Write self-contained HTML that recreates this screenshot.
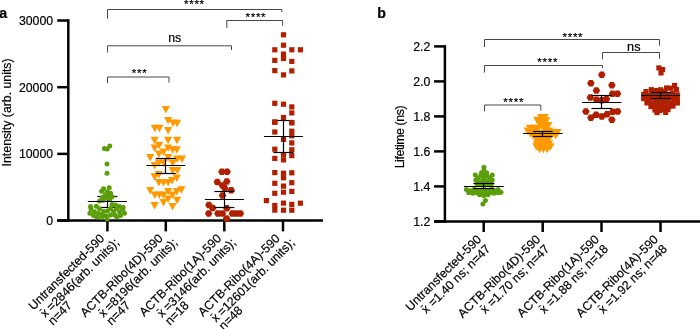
<!DOCTYPE html>
<html><head><meta charset="utf-8"><title>Figure</title>
<style>
html,body{margin:0;padding:0;background:#fff;}
svg{display:block;will-change:transform;}
text{font-family:"Liberation Sans",sans-serif;fill:#000;stroke:#000;stroke-width:0.2px;}
</style></head><body>
<svg width="700" height="329" viewBox="0 0 700 329">
<rect width="700" height="329" fill="#fff"/>
<text x="-0.80" y="17.90" font-size="14.2" font-weight="bold" text-anchor="start">a</text>
<line x1="68.30" y1="19.26" x2="68.30" y2="221.80" stroke="#000" stroke-width="2.5" stroke-linecap="butt"/>
<line x1="57.20" y1="220.55" x2="323.00" y2="220.55" stroke="#000" stroke-width="2.5" stroke-linecap="butt"/>
<line x1="57.20" y1="220.55" x2="68.30" y2="220.55" stroke="#000" stroke-width="2.5" stroke-linecap="butt"/>
<text x="53.10" y="224.90" font-size="12.3" font-weight="normal" text-anchor="end">0</text>
<line x1="57.20" y1="153.87" x2="68.30" y2="153.87" stroke="#000" stroke-width="2.5" stroke-linecap="butt"/>
<text x="53.10" y="158.22" font-size="12.3" font-weight="normal" text-anchor="end">10000</text>
<line x1="57.20" y1="87.19" x2="68.30" y2="87.19" stroke="#000" stroke-width="2.5" stroke-linecap="butt"/>
<text x="53.10" y="91.54" font-size="12.3" font-weight="normal" text-anchor="end">20000</text>
<line x1="57.20" y1="20.51" x2="68.30" y2="20.51" stroke="#000" stroke-width="2.5" stroke-linecap="butt"/>
<text x="53.10" y="24.86" font-size="12.3" font-weight="normal" text-anchor="end">30000</text>
<line x1="107.40" y1="220.55" x2="107.40" y2="231.40" stroke="#000" stroke-width="2.5" stroke-linecap="butt"/>
<line x1="165.80" y1="220.55" x2="165.80" y2="231.40" stroke="#000" stroke-width="2.5" stroke-linecap="butt"/>
<line x1="224.30" y1="220.55" x2="224.30" y2="231.40" stroke="#000" stroke-width="2.5" stroke-linecap="butt"/>
<line x1="283.00" y1="220.55" x2="283.00" y2="231.40" stroke="#000" stroke-width="2.5" stroke-linecap="butt"/>
<text x="11.50" y="112.40" font-size="12.3" font-weight="normal" text-anchor="middle" transform="rotate(-90 11.50 112.40)">Intensity (arb. units)</text>
<polyline points="107.50,18.80 107.50,9.50 281.80,9.50 281.80,12.10" fill="none" stroke="#474747" stroke-width="1.0"/>
<text x="194.40" y="8.00" font-size="11.5" font-weight="normal" text-anchor="middle" letter-spacing="0.75">****</text>
<polyline points="226.80,28.00 226.80,20.50 282.60,20.50 282.60,25.70" fill="none" stroke="#474747" stroke-width="1.0"/>
<text x="255.90" y="20.50" font-size="11.5" font-weight="normal" text-anchor="middle" letter-spacing="0.75">****</text>
<polyline points="107.50,52.50 107.50,45.80 231.50,45.80 231.50,50.00" fill="none" stroke="#474747" stroke-width="1.0"/>
<text x="174.70" y="42.40" font-size="12.3" font-weight="normal" text-anchor="middle">ns</text>
<polyline points="107.50,83.30 107.50,77.00 169.00,77.00 169.00,82.60" fill="none" stroke="#474747" stroke-width="1.0"/>
<text x="139.70" y="76.60" font-size="11.5" font-weight="normal" text-anchor="middle" letter-spacing="0.75">***</text>
<line x1="107.50" y1="196.50" x2="107.50" y2="207.50" stroke="#000" stroke-width="1.2" stroke-linecap="butt"/>
<line x1="97.40" y1="196.50" x2="117.40" y2="196.50" stroke="#000" stroke-width="1.2" stroke-linecap="butt"/>
<line x1="99.40" y1="207.50" x2="117.40" y2="207.50" stroke="#000" stroke-width="1.2" stroke-linecap="butt"/>
<circle cx="109.80" cy="145.90" r="2.5" fill="#5a9e0a"/>
<circle cx="104.40" cy="148.40" r="2.5" fill="#5a9e0a"/>
<circle cx="107.20" cy="149.00" r="2.5" fill="#5a9e0a"/>
<circle cx="107.00" cy="164.00" r="2.5" fill="#5a9e0a"/>
<circle cx="107.00" cy="173.20" r="2.5" fill="#5a9e0a"/>
<circle cx="103.60" cy="188.70" r="2.5" fill="#5a9e0a"/>
<circle cx="109.20" cy="187.70" r="2.5" fill="#5a9e0a"/>
<circle cx="101.60" cy="191.20" r="2.5" fill="#5a9e0a"/>
<circle cx="107.10" cy="191.90" r="2.5" fill="#5a9e0a"/>
<circle cx="110.60" cy="193.30" r="2.5" fill="#5a9e0a"/>
<circle cx="105.00" cy="194.70" r="2.5" fill="#5a9e0a"/>
<circle cx="108.50" cy="196.10" r="2.5" fill="#5a9e0a"/>
<circle cx="112.00" cy="196.80" r="2.5" fill="#5a9e0a"/>
<circle cx="102.30" cy="197.50" r="2.5" fill="#5a9e0a"/>
<circle cx="105.70" cy="198.20" r="2.5" fill="#5a9e0a"/>
<circle cx="109.90" cy="198.90" r="2.5" fill="#5a9e0a"/>
<circle cx="99.50" cy="201.00" r="2.5" fill="#5a9e0a"/>
<circle cx="103.00" cy="200.30" r="2.5" fill="#5a9e0a"/>
<circle cx="112.00" cy="204.40" r="2.5" fill="#5a9e0a"/>
<circle cx="115.50" cy="205.10" r="2.5" fill="#5a9e0a"/>
<circle cx="90.50" cy="206.50" r="2.5" fill="#5a9e0a"/>
<circle cx="96.30" cy="206.30" r="2.5" fill="#5a9e0a"/>
<circle cx="119.50" cy="206.60" r="2.5" fill="#5a9e0a"/>
<circle cx="123.00" cy="207.20" r="2.5" fill="#5a9e0a"/>
<circle cx="91.00" cy="209.00" r="2.5" fill="#5a9e0a"/>
<circle cx="99.50" cy="208.80" r="2.5" fill="#5a9e0a"/>
<circle cx="110.50" cy="208.50" r="2.5" fill="#5a9e0a"/>
<circle cx="116.50" cy="208.80" r="2.5" fill="#5a9e0a"/>
<circle cx="122.80" cy="209.20" r="2.5" fill="#5a9e0a"/>
<circle cx="94.50" cy="211.80" r="2.5" fill="#5a9e0a"/>
<circle cx="103.50" cy="211.50" r="2.5" fill="#5a9e0a"/>
<circle cx="107.50" cy="211.00" r="2.5" fill="#5a9e0a"/>
<circle cx="113.50" cy="211.50" r="2.5" fill="#5a9e0a"/>
<circle cx="119.50" cy="211.80" r="2.5" fill="#5a9e0a"/>
<circle cx="89.90" cy="213.30" r="2.5" fill="#5a9e0a"/>
<circle cx="98.50" cy="213.50" r="2.5" fill="#5a9e0a"/>
<circle cx="124.50" cy="213.30" r="2.5" fill="#5a9e0a"/>
<circle cx="93.50" cy="215.40" r="2.5" fill="#5a9e0a"/>
<circle cx="102.50" cy="215.00" r="2.5" fill="#5a9e0a"/>
<circle cx="110.50" cy="215.00" r="2.5" fill="#5a9e0a"/>
<circle cx="115.00" cy="215.20" r="2.5" fill="#5a9e0a"/>
<circle cx="120.50" cy="215.40" r="2.5" fill="#5a9e0a"/>
<circle cx="96.80" cy="216.90" r="2.5" fill="#5a9e0a"/>
<circle cx="106.00" cy="216.00" r="2.5" fill="#5a9e0a"/>
<circle cx="117.00" cy="216.90" r="2.5" fill="#5a9e0a"/>
<circle cx="107.20" cy="219.10" r="2.5" fill="#5a9e0a"/>
<circle cx="101.50" cy="217.60" r="2.5" fill="#5a9e0a"/>
<line x1="87.80" y1="201.50" x2="127.00" y2="201.50" stroke="#000" stroke-width="1.2" stroke-linecap="butt"/>
<polygon points="161.70,106.00 169.90,106.00 165.80,113.50" fill="#ff9900"/>
<polygon points="164.00,116.90 172.20,116.90 168.10,124.40" fill="#ff9900"/>
<polygon points="172.90,119.80 181.10,119.80 177.00,127.30" fill="#ff9900"/>
<polygon points="168.90,119.60 177.10,119.60 173.00,127.10" fill="#ff9900"/>
<polygon points="150.70,124.80 158.90,124.80 154.80,132.30" fill="#ff9900"/>
<polygon points="155.30,124.80 163.50,124.80 159.40,132.30" fill="#ff9900"/>
<polygon points="164.00,127.00 172.20,127.00 168.10,134.50" fill="#ff9900"/>
<polygon points="150.50,136.80 158.70,136.80 154.60,144.30" fill="#ff9900"/>
<polygon points="164.00,136.80 172.20,136.80 168.10,144.30" fill="#ff9900"/>
<polygon points="172.90,136.80 181.10,136.80 177.00,144.30" fill="#ff9900"/>
<polygon points="155.00,141.70 163.20,141.70 159.10,149.20" fill="#ff9900"/>
<polygon points="150.50,144.60 158.70,144.60 154.60,152.10" fill="#ff9900"/>
<polygon points="164.00,144.60 172.20,144.60 168.10,152.10" fill="#ff9900"/>
<polygon points="172.70,146.30 180.90,146.30 176.80,153.80" fill="#ff9900"/>
<polygon points="168.60,146.30 176.80,146.30 172.70,153.80" fill="#ff9900"/>
<polygon points="159.40,148.60 167.60,148.60 163.50,156.10" fill="#ff9900"/>
<polygon points="154.80,150.40 163.00,150.40 158.90,157.90" fill="#ff9900"/>
<polygon points="146.10,154.10 154.30,154.10 150.20,161.60" fill="#ff9900"/>
<polygon points="164.00,154.10 172.20,154.10 168.10,161.60" fill="#ff9900"/>
<polygon points="173.20,155.60 181.40,155.60 177.30,163.10" fill="#ff9900"/>
<polygon points="177.90,155.60 186.10,155.60 182.00,163.10" fill="#ff9900"/>
<polygon points="154.80,159.60 163.00,159.60 158.90,167.10" fill="#ff9900"/>
<polygon points="159.40,159.60 167.60,159.60 163.50,167.10" fill="#ff9900"/>
<polygon points="168.60,159.60 176.80,159.60 172.70,167.10" fill="#ff9900"/>
<polygon points="150.50,161.90 158.70,161.90 154.60,169.40" fill="#ff9900"/>
<polygon points="168.60,167.10 176.80,167.10 172.70,174.60" fill="#ff9900"/>
<polygon points="173.20,167.10 181.40,167.10 177.30,174.60" fill="#ff9900"/>
<polygon points="154.80,171.10 163.00,171.10 158.90,178.60" fill="#ff9900"/>
<polygon points="150.50,173.20 158.70,173.20 154.60,180.70" fill="#ff9900"/>
<polygon points="172.70,174.60 180.90,174.60 176.80,182.10" fill="#ff9900"/>
<polygon points="168.00,176.90 176.20,176.90 172.10,184.40" fill="#ff9900"/>
<polygon points="154.80,179.00 163.00,179.00 158.90,186.50" fill="#ff9900"/>
<polygon points="159.40,179.00 167.60,179.00 163.50,186.50" fill="#ff9900"/>
<polygon points="164.00,179.00 172.20,179.00 168.10,186.50" fill="#ff9900"/>
<polygon points="177.30,186.20 185.50,186.20 181.40,193.70" fill="#ff9900"/>
<polygon points="146.10,187.10 154.30,187.10 150.20,194.60" fill="#ff9900"/>
<polygon points="164.00,187.90 172.20,187.90 168.10,195.40" fill="#ff9900"/>
<polygon points="172.70,187.90 180.90,187.90 176.80,195.40" fill="#ff9900"/>
<polygon points="150.70,191.40 158.90,191.40 154.80,198.90" fill="#ff9900"/>
<polygon points="155.20,191.40 163.40,191.40 159.30,198.90" fill="#ff9900"/>
<polygon points="159.40,191.40 167.60,191.40 163.50,198.90" fill="#ff9900"/>
<polygon points="168.40,191.40 176.60,191.40 172.50,198.90" fill="#ff9900"/>
<polygon points="164.00,195.60 172.20,195.60 168.10,203.10" fill="#ff9900"/>
<polygon points="173.00,196.70 181.20,196.70 177.10,204.20" fill="#ff9900"/>
<polygon points="159.40,199.00 167.60,199.00 163.50,206.50" fill="#ff9900"/>
<polygon points="150.50,201.90 158.70,201.90 154.60,209.40" fill="#ff9900"/>
<polygon points="168.40,203.10 176.60,203.10 172.50,210.60" fill="#ff9900"/>
<line x1="146.30" y1="165.50" x2="185.30" y2="165.50" stroke="#000" stroke-width="1.2" stroke-linecap="butt"/>
<line x1="165.50" y1="158.50" x2="165.50" y2="173.50" stroke="#000" stroke-width="1.2" stroke-linecap="butt"/>
<line x1="155.80" y1="158.50" x2="175.80" y2="158.50" stroke="#000" stroke-width="1.2" stroke-linecap="butt"/>
<line x1="155.80" y1="173.50" x2="175.80" y2="173.50" stroke="#000" stroke-width="1.2" stroke-linecap="butt"/>
<polygon points="218.15,171.80 220.03,168.55 223.78,168.55 225.65,171.80 223.78,175.05 220.03,175.05" fill="#b02000"/>
<polygon points="223.35,171.80 225.22,168.55 228.97,168.55 230.85,171.80 228.97,175.05 225.22,175.05" fill="#b02000"/>
<polygon points="213.55,181.90 215.43,178.65 219.18,178.65 221.05,181.90 219.18,185.15 215.43,185.15" fill="#b02000"/>
<polygon points="223.05,181.40 224.93,178.15 228.68,178.15 230.55,181.40 228.68,184.65 224.93,184.65" fill="#b02000"/>
<polygon points="218.75,185.40 220.62,182.15 224.38,182.15 226.25,185.40 224.38,188.65 220.62,188.65" fill="#b02000"/>
<polygon points="221.05,188.30 222.93,185.05 226.68,185.05 228.55,188.30 226.68,191.55 222.93,191.55" fill="#b02000"/>
<polygon points="227.45,190.30 229.32,187.05 233.07,187.05 234.95,190.30 233.07,193.55 229.32,193.55" fill="#b02000"/>
<polygon points="218.75,195.60 220.62,192.35 224.38,192.35 226.25,195.60 224.38,198.85 220.62,198.85" fill="#b02000"/>
<polygon points="205.15,205.10 207.03,201.85 210.78,201.85 212.65,205.10 210.78,208.35 207.03,208.35" fill="#b02000"/>
<polygon points="208.95,207.90 210.82,204.65 214.57,204.65 216.45,207.90 214.57,211.15 210.82,211.15" fill="#b02000"/>
<polygon points="223.05,208.20 224.93,204.95 228.68,204.95 230.55,208.20 228.68,211.45 224.93,211.45" fill="#b02000"/>
<polygon points="204.95,213.60 206.82,210.35 210.57,210.35 212.45,213.60 210.57,216.85 206.82,216.85" fill="#b02000"/>
<polygon points="214.15,213.60 216.03,210.35 219.78,210.35 221.65,213.60 219.78,216.85 216.03,216.85" fill="#b02000"/>
<polygon points="218.75,213.60 220.62,210.35 224.38,210.35 226.25,213.60 224.38,216.85 220.62,216.85" fill="#b02000"/>
<polygon points="228.55,213.60 230.43,210.35 234.18,210.35 236.05,213.60 234.18,216.85 230.43,216.85" fill="#b02000"/>
<polygon points="232.65,213.60 234.53,210.35 238.28,210.35 240.15,213.60 238.28,216.85 234.53,216.85" fill="#b02000"/>
<polygon points="236.65,213.60 238.53,210.35 242.28,210.35 244.15,213.60 242.28,216.85 238.53,216.85" fill="#b02000"/>
<polygon points="222.85,218.60 224.72,215.35 228.47,215.35 230.35,218.60 228.47,221.85 224.72,221.85" fill="#b02000"/>
<line x1="204.90" y1="199.50" x2="243.90" y2="199.50" stroke="#000" stroke-width="1.2" stroke-linecap="butt"/>
<line x1="224.50" y1="191.50" x2="224.50" y2="207.50" stroke="#000" stroke-width="1.2" stroke-linecap="butt"/>
<line x1="214.40" y1="191.50" x2="234.40" y2="191.50" stroke="#000" stroke-width="1.2" stroke-linecap="butt"/>
<line x1="214.40" y1="207.50" x2="234.40" y2="207.50" stroke="#000" stroke-width="1.2" stroke-linecap="butt"/>
<rect x="280.90" y="32.20" width="5.2" height="5.2" fill="#b02000"/>
<rect x="280.90" y="42.60" width="5.2" height="5.2" fill="#b02000"/>
<rect x="272.20" y="47.20" width="5.2" height="5.2" fill="#b02000"/>
<rect x="289.20" y="47.20" width="5.2" height="5.2" fill="#b02000"/>
<rect x="297.80" y="47.20" width="5.2" height="5.2" fill="#b02000"/>
<rect x="280.90" y="51.50" width="5.2" height="5.2" fill="#b02000"/>
<rect x="280.90" y="55.90" width="5.2" height="5.2" fill="#b02000"/>
<rect x="272.20" y="57.80" width="5.2" height="5.2" fill="#b02000"/>
<rect x="289.20" y="58.80" width="5.2" height="5.2" fill="#b02000"/>
<rect x="272.20" y="68.00" width="5.2" height="5.2" fill="#b02000"/>
<rect x="289.20" y="68.30" width="5.2" height="5.2" fill="#b02000"/>
<rect x="280.90" y="72.30" width="5.2" height="5.2" fill="#b02000"/>
<rect x="272.20" y="100.70" width="5.2" height="5.2" fill="#b02000"/>
<rect x="280.90" y="101.60" width="5.2" height="5.2" fill="#b02000"/>
<rect x="289.20" y="104.30" width="5.2" height="5.2" fill="#b02000"/>
<rect x="289.20" y="110.30" width="5.2" height="5.2" fill="#b02000"/>
<rect x="280.90" y="114.90" width="5.2" height="5.2" fill="#b02000"/>
<rect x="272.20" y="119.50" width="5.2" height="5.2" fill="#b02000"/>
<rect x="289.20" y="120.10" width="5.2" height="5.2" fill="#b02000"/>
<rect x="272.20" y="129.40" width="5.2" height="5.2" fill="#b02000"/>
<rect x="289.20" y="128.60" width="5.2" height="5.2" fill="#b02000"/>
<rect x="289.20" y="133.20" width="5.2" height="5.2" fill="#b02000"/>
<rect x="280.90" y="136.80" width="5.2" height="5.2" fill="#b02000"/>
<rect x="289.20" y="140.30" width="5.2" height="5.2" fill="#b02000"/>
<rect x="272.20" y="146.60" width="5.2" height="5.2" fill="#b02000"/>
<rect x="289.20" y="147.20" width="5.2" height="5.2" fill="#b02000"/>
<rect x="280.90" y="152.20" width="5.2" height="5.2" fill="#b02000"/>
<rect x="289.20" y="153.00" width="5.2" height="5.2" fill="#b02000"/>
<rect x="272.20" y="155.80" width="5.2" height="5.2" fill="#b02000"/>
<rect x="280.90" y="157.30" width="5.2" height="5.2" fill="#b02000"/>
<rect x="272.20" y="170.00" width="5.2" height="5.2" fill="#b02000"/>
<rect x="289.20" y="170.20" width="5.2" height="5.2" fill="#b02000"/>
<rect x="280.90" y="170.60" width="5.2" height="5.2" fill="#b02000"/>
<rect x="280.90" y="175.20" width="5.2" height="5.2" fill="#b02000"/>
<rect x="272.20" y="180.70" width="5.2" height="5.2" fill="#b02000"/>
<rect x="289.20" y="180.10" width="5.2" height="5.2" fill="#b02000"/>
<rect x="280.90" y="183.50" width="5.2" height="5.2" fill="#b02000"/>
<rect x="272.20" y="190.70" width="5.2" height="5.2" fill="#b02000"/>
<rect x="280.90" y="189.60" width="5.2" height="5.2" fill="#b02000"/>
<rect x="289.20" y="188.80" width="5.2" height="5.2" fill="#b02000"/>
<rect x="263.80" y="198.00" width="5.2" height="5.2" fill="#b02000"/>
<rect x="280.90" y="200.50" width="5.2" height="5.2" fill="#b02000"/>
<rect x="289.20" y="201.80" width="5.2" height="5.2" fill="#b02000"/>
<rect x="297.80" y="200.60" width="5.2" height="5.2" fill="#b02000"/>
<rect x="272.20" y="202.90" width="5.2" height="5.2" fill="#b02000"/>
<rect x="272.20" y="207.50" width="5.2" height="5.2" fill="#b02000"/>
<rect x="280.90" y="207.60" width="5.2" height="5.2" fill="#b02000"/>
<rect x="289.20" y="207.60" width="5.2" height="5.2" fill="#b02000"/>
<line x1="263.90" y1="136.50" x2="302.90" y2="136.50" stroke="#000" stroke-width="1.2" stroke-linecap="butt"/>
<line x1="283.50" y1="120.50" x2="283.50" y2="152.50" stroke="#000" stroke-width="1.2" stroke-linecap="butt"/>
<line x1="273.40" y1="120.50" x2="293.40" y2="120.50" stroke="#000" stroke-width="1.2" stroke-linecap="butt"/>
<line x1="273.40" y1="152.50" x2="293.40" y2="152.50" stroke="#000" stroke-width="1.2" stroke-linecap="butt"/>
<rect x="272.20" y="119.50" width="5.2" height="5.2" fill="#b02000"/>
<rect x="289.20" y="120.10" width="5.2" height="5.2" fill="#b02000"/>
<text x="105.10" y="239.20" font-size="12.3" font-weight="normal" text-anchor="end" transform="rotate(-45 105.10 239.20)">Untransfected-590</text>
<text x="119.80" y="243.40" font-size="12.3" font-weight="normal" text-anchor="end" transform="rotate(-45 119.80 243.40)">x<tspan font-size="10" dx="-3.75" dy="-2.7">&#772;</tspan><tspan dx="2.95" dy="2.7"> =2846(arb. units);</tspan></text>
<text x="53.10" y="325.80" font-size="12.3" font-weight="normal" text-anchor="start" transform="rotate(-45 53.10 325.80)">n=47</text>
<text x="163.50" y="239.20" font-size="12.3" font-weight="normal" text-anchor="end" transform="rotate(-45 163.50 239.20)">ACTB-Ribo(4D)-590</text>
<text x="178.20" y="243.40" font-size="12.3" font-weight="normal" text-anchor="end" transform="rotate(-45 178.20 243.40)">x<tspan font-size="10" dx="-3.75" dy="-2.7">&#772;</tspan><tspan dx="2.95" dy="2.7"> =8196(arb. units);</tspan></text>
<text x="111.50" y="325.80" font-size="12.3" font-weight="normal" text-anchor="start" transform="rotate(-45 111.50 325.80)">n=47</text>
<text x="222.00" y="239.20" font-size="12.3" font-weight="normal" text-anchor="end" transform="rotate(-45 222.00 239.20)">ACTB-Ribo(1A)-590</text>
<text x="236.70" y="243.40" font-size="12.3" font-weight="normal" text-anchor="end" transform="rotate(-45 236.70 243.40)">x<tspan font-size="10" dx="-3.75" dy="-2.7">&#772;</tspan><tspan dx="2.95" dy="2.7"> =3146(arb. units);</tspan></text>
<text x="170.00" y="325.80" font-size="12.3" font-weight="normal" text-anchor="start" transform="rotate(-45 170.00 325.80)">n=18</text>
<text x="280.70" y="239.20" font-size="12.3" font-weight="normal" text-anchor="end" transform="rotate(-45 280.70 239.20)">ACTB-Ribo(4A)-590</text>
<text x="295.40" y="243.40" font-size="12.3" font-weight="normal" text-anchor="end" transform="rotate(-45 295.40 243.40)">x<tspan font-size="10" dx="-3.75" dy="-2.7">&#772;</tspan><tspan dx="2.95" dy="2.7"> =12601(arb. units);</tspan></text>
<text x="223.86" y="330.64" font-size="12.3" font-weight="normal" text-anchor="start" transform="rotate(-45 223.86 330.64)">n=48</text>
<text x="377.20" y="18.00" font-size="14.2" font-weight="bold" text-anchor="start">b</text>
<line x1="444.90" y1="45.15" x2="444.90" y2="222.65" stroke="#000" stroke-width="2.5" stroke-linecap="butt"/>
<line x1="434.10" y1="221.40" x2="700.00" y2="221.40" stroke="#000" stroke-width="2.5" stroke-linecap="butt"/>
<line x1="434.10" y1="221.40" x2="444.90" y2="221.40" stroke="#000" stroke-width="2.5" stroke-linecap="butt"/>
<text x="430.30" y="226.10" font-size="12.3" font-weight="normal" text-anchor="end">1.2</text>
<line x1="434.10" y1="186.40" x2="444.90" y2="186.40" stroke="#000" stroke-width="2.5" stroke-linecap="butt"/>
<text x="430.30" y="191.10" font-size="12.3" font-weight="normal" text-anchor="end">1.4</text>
<line x1="434.10" y1="151.40" x2="444.90" y2="151.40" stroke="#000" stroke-width="2.5" stroke-linecap="butt"/>
<text x="430.30" y="156.10" font-size="12.3" font-weight="normal" text-anchor="end">1.6</text>
<line x1="434.10" y1="116.40" x2="444.90" y2="116.40" stroke="#000" stroke-width="2.5" stroke-linecap="butt"/>
<text x="430.30" y="121.10" font-size="12.3" font-weight="normal" text-anchor="end">1.8</text>
<line x1="434.10" y1="81.40" x2="444.90" y2="81.40" stroke="#000" stroke-width="2.5" stroke-linecap="butt"/>
<text x="430.30" y="86.10" font-size="12.3" font-weight="normal" text-anchor="end">2.0</text>
<line x1="434.10" y1="46.40" x2="444.90" y2="46.40" stroke="#000" stroke-width="2.5" stroke-linecap="butt"/>
<text x="430.30" y="51.10" font-size="12.3" font-weight="normal" text-anchor="end">2.2</text>
<line x1="483.70" y1="221.40" x2="483.70" y2="232.00" stroke="#000" stroke-width="2.5" stroke-linecap="butt"/>
<line x1="542.70" y1="221.40" x2="542.70" y2="232.00" stroke="#000" stroke-width="2.5" stroke-linecap="butt"/>
<line x1="601.50" y1="221.40" x2="601.50" y2="232.00" stroke="#000" stroke-width="2.5" stroke-linecap="butt"/>
<line x1="660.50" y1="221.40" x2="660.50" y2="232.00" stroke="#000" stroke-width="2.5" stroke-linecap="butt"/>
<text x="404.00" y="137.10" font-size="12.3" font-weight="normal" text-anchor="middle" transform="rotate(-90 404.00 137.10)" letter-spacing="-0.4">Lifetime (ns)</text>
<polyline points="484.50,47.00 484.50,39.50 659.50,39.50 659.50,45.70" fill="none" stroke="#474747" stroke-width="1.0"/>
<text x="572.90" y="40.60" font-size="11.5" font-weight="normal" text-anchor="middle" letter-spacing="0.75">****</text>
<polyline points="602.50,59.30 602.50,52.50 659.50,52.50 659.50,58.70" fill="none" stroke="#474747" stroke-width="1.0"/>
<text x="633.80" y="51.00" font-size="12.7" font-weight="normal" text-anchor="middle">ns</text>
<polyline points="484.50,72.50 484.50,65.50 602.50,65.50 602.50,68.00" fill="none" stroke="#474747" stroke-width="1.0"/>
<text x="547.70" y="66.10" font-size="11.5" font-weight="normal" text-anchor="middle" letter-spacing="0.75">****</text>
<polyline points="484.50,111.50 484.50,105.00 540.80,105.00 540.80,110.50" fill="none" stroke="#474747" stroke-width="1.0"/>
<text x="513.70" y="105.80" font-size="11.5" font-weight="normal" text-anchor="middle" letter-spacing="0.75">****</text>
<circle cx="483.90" cy="167.20" r="2.5" fill="#5a9e0a"/>
<circle cx="483.90" cy="170.40" r="2.5" fill="#5a9e0a"/>
<circle cx="481.40" cy="172.70" r="2.5" fill="#5a9e0a"/>
<circle cx="486.60" cy="172.70" r="2.5" fill="#5a9e0a"/>
<circle cx="475.30" cy="175.00" r="2.5" fill="#5a9e0a"/>
<circle cx="492.30" cy="175.00" r="2.5" fill="#5a9e0a"/>
<circle cx="483.90" cy="175.20" r="2.5" fill="#5a9e0a"/>
<circle cx="477.90" cy="178.00" r="2.5" fill="#5a9e0a"/>
<circle cx="489.50" cy="178.00" r="2.5" fill="#5a9e0a"/>
<circle cx="483.90" cy="178.30" r="2.5" fill="#5a9e0a"/>
<circle cx="480.70" cy="176.00" r="2.5" fill="#5a9e0a"/>
<circle cx="487.20" cy="176.00" r="2.5" fill="#5a9e0a"/>
<circle cx="478.50" cy="181.00" r="2.5" fill="#5a9e0a"/>
<circle cx="482.20" cy="181.20" r="2.5" fill="#5a9e0a"/>
<circle cx="485.80" cy="181.20" r="2.5" fill="#5a9e0a"/>
<circle cx="489.30" cy="181.00" r="2.5" fill="#5a9e0a"/>
<circle cx="475.80" cy="180.00" r="2.5" fill="#5a9e0a"/>
<circle cx="492.20" cy="180.00" r="2.5" fill="#5a9e0a"/>
<circle cx="477.00" cy="184.00" r="2.5" fill="#5a9e0a"/>
<circle cx="480.60" cy="184.20" r="2.5" fill="#5a9e0a"/>
<circle cx="484.20" cy="184.20" r="2.5" fill="#5a9e0a"/>
<circle cx="487.80" cy="184.20" r="2.5" fill="#5a9e0a"/>
<circle cx="491.40" cy="184.00" r="2.5" fill="#5a9e0a"/>
<circle cx="466.40" cy="189.60" r="2.5" fill="#5a9e0a"/>
<circle cx="498.10" cy="189.60" r="2.5" fill="#5a9e0a"/>
<circle cx="470.50" cy="190.80" r="2.5" fill="#5a9e0a"/>
<circle cx="494.50" cy="190.80" r="2.5" fill="#5a9e0a"/>
<circle cx="468.70" cy="192.80" r="2.5" fill="#5a9e0a"/>
<circle cx="472.90" cy="193.20" r="2.5" fill="#5a9e0a"/>
<circle cx="477.10" cy="192.80" r="2.5" fill="#5a9e0a"/>
<circle cx="481.30" cy="193.40" r="2.5" fill="#5a9e0a"/>
<circle cx="485.50" cy="193.40" r="2.5" fill="#5a9e0a"/>
<circle cx="489.70" cy="192.80" r="2.5" fill="#5a9e0a"/>
<circle cx="493.90" cy="193.20" r="2.5" fill="#5a9e0a"/>
<circle cx="498.10" cy="192.80" r="2.5" fill="#5a9e0a"/>
<circle cx="501.00" cy="192.20" r="2.5" fill="#5a9e0a"/>
<circle cx="476.00" cy="190.20" r="2.5" fill="#5a9e0a"/>
<circle cx="480.50" cy="190.00" r="2.5" fill="#5a9e0a"/>
<circle cx="485.00" cy="190.00" r="2.5" fill="#5a9e0a"/>
<circle cx="489.50" cy="190.20" r="2.5" fill="#5a9e0a"/>
<circle cx="479.50" cy="194.80" r="2.5" fill="#5a9e0a"/>
<circle cx="483.80" cy="195.40" r="2.5" fill="#5a9e0a"/>
<circle cx="488.00" cy="194.80" r="2.5" fill="#5a9e0a"/>
<circle cx="485.40" cy="200.60" r="2.5" fill="#5a9e0a"/>
<circle cx="482.90" cy="204.00" r="2.5" fill="#5a9e0a"/>
<circle cx="474.00" cy="189.50" r="2.5" fill="#5a9e0a"/>
<circle cx="491.80" cy="189.20" r="2.5" fill="#5a9e0a"/>
<line x1="464.00" y1="186.50" x2="503.80" y2="186.50" stroke="#000" stroke-width="1.2" stroke-linecap="butt"/>
<line x1="483.50" y1="183.50" x2="483.50" y2="188.50" stroke="#000" stroke-width="1.2" stroke-linecap="butt"/>
<line x1="473.40" y1="183.50" x2="494.40" y2="183.50" stroke="#000" stroke-width="1.2" stroke-linecap="butt"/>
<line x1="473.40" y1="188.50" x2="494.40" y2="188.50" stroke="#000" stroke-width="1.2" stroke-linecap="butt"/>
<polygon points="537.10,114.00 545.30,114.00 541.20,121.50" fill="#ff9900"/>
<polygon points="540.50,114.00 548.70,114.00 544.60,121.50" fill="#ff9900"/>
<polygon points="533.20,116.80 541.40,116.80 537.30,124.30" fill="#ff9900"/>
<polygon points="537.70,117.50 545.90,117.50 541.80,125.00" fill="#ff9900"/>
<polygon points="542.20,117.20 550.40,117.20 546.30,124.70" fill="#ff9900"/>
<polygon points="535.40,120.40 543.60,120.40 539.50,127.90" fill="#ff9900"/>
<polygon points="540.10,120.40 548.30,120.40 544.20,127.90" fill="#ff9900"/>
<polygon points="544.20,121.90 552.40,121.90 548.30,129.40" fill="#ff9900"/>
<polygon points="537.90,122.80 546.10,122.80 542.00,130.30" fill="#ff9900"/>
<polygon points="525.80,124.70 534.00,124.70 529.90,132.20" fill="#ff9900"/>
<polygon points="530.10,124.70 538.30,124.70 534.20,132.20" fill="#ff9900"/>
<polygon points="534.50,124.70 542.70,124.70 538.60,132.20" fill="#ff9900"/>
<polygon points="541.90,124.70 550.10,124.70 546.00,132.20" fill="#ff9900"/>
<polygon points="523.50,127.60 531.70,127.60 527.60,135.10" fill="#ff9900"/>
<polygon points="527.90,127.60 536.10,127.60 532.00,135.10" fill="#ff9900"/>
<polygon points="532.20,127.60 540.40,127.60 536.30,135.10" fill="#ff9900"/>
<polygon points="541.10,127.60 549.30,127.60 545.20,135.10" fill="#ff9900"/>
<polygon points="545.10,127.60 553.30,127.60 549.20,135.10" fill="#ff9900"/>
<polygon points="553.30,129.00 561.50,129.00 557.40,136.50" fill="#ff9900"/>
<polygon points="549.10,129.00 557.30,129.00 553.20,136.50" fill="#ff9900"/>
<polygon points="526.40,130.20 534.60,130.20 530.50,137.70" fill="#ff9900"/>
<polygon points="530.70,130.20 538.90,130.20 534.80,137.70" fill="#ff9900"/>
<polygon points="534.90,130.20 543.10,130.20 539.00,137.70" fill="#ff9900"/>
<polygon points="543.90,130.20 552.10,130.20 548.00,137.70" fill="#ff9900"/>
<polygon points="528.90,132.00 537.10,132.00 533.00,139.50" fill="#ff9900"/>
<polygon points="533.40,132.00 541.60,132.00 537.50,139.50" fill="#ff9900"/>
<polygon points="537.90,132.00 546.10,132.00 542.00,139.50" fill="#ff9900"/>
<polygon points="542.40,132.00 550.60,132.00 546.50,139.50" fill="#ff9900"/>
<polygon points="546.90,132.00 555.10,132.00 551.00,139.50" fill="#ff9900"/>
<polygon points="551.40,132.00 559.60,132.00 555.50,139.50" fill="#ff9900"/>
<polygon points="532.70,134.20 540.90,134.20 536.80,141.70" fill="#ff9900"/>
<polygon points="537.10,134.20 545.30,134.20 541.20,141.70" fill="#ff9900"/>
<polygon points="541.50,134.20 549.70,134.20 545.60,141.70" fill="#ff9900"/>
<polygon points="545.30,134.20 553.50,134.20 549.40,141.70" fill="#ff9900"/>
<polygon points="533.10,137.20 541.30,137.20 537.20,144.70" fill="#ff9900"/>
<polygon points="537.90,137.20 546.10,137.20 542.00,144.70" fill="#ff9900"/>
<polygon points="542.70,137.20 550.90,137.20 546.80,144.70" fill="#ff9900"/>
<polygon points="532.70,140.20 540.90,140.20 536.80,147.70" fill="#ff9900"/>
<polygon points="537.30,140.20 545.50,140.20 541.40,147.70" fill="#ff9900"/>
<polygon points="541.90,140.20 550.10,140.20 546.00,147.70" fill="#ff9900"/>
<polygon points="545.10,140.20 553.30,140.20 549.20,147.70" fill="#ff9900"/>
<polygon points="532.30,143.20 540.50,143.20 536.40,150.70" fill="#ff9900"/>
<polygon points="537.90,143.20 546.10,143.20 542.00,150.70" fill="#ff9900"/>
<polygon points="546.30,143.20 554.50,143.20 550.40,150.70" fill="#ff9900"/>
<polygon points="535.50,145.80 543.70,145.80 539.60,153.30" fill="#ff9900"/>
<polygon points="539.30,145.80 547.50,145.80 543.40,153.30" fill="#ff9900"/>
<polygon points="543.10,145.80 551.30,145.80 547.20,153.30" fill="#ff9900"/>
<line x1="523.10" y1="133.50" x2="562.50" y2="133.50" stroke="#000" stroke-width="1.2" stroke-linecap="butt"/>
<line x1="542.50" y1="131.50" x2="542.50" y2="136.50" stroke="#000" stroke-width="1.2" stroke-linecap="butt"/>
<line x1="533.00" y1="131.50" x2="552.60" y2="131.50" stroke="#000" stroke-width="1.2" stroke-linecap="butt"/>
<line x1="533.00" y1="136.50" x2="552.60" y2="136.50" stroke="#000" stroke-width="1.2" stroke-linecap="butt"/>
<polygon points="598.05,74.80 599.92,71.55 603.67,71.55 605.55,74.80 603.67,78.05 599.92,78.05" fill="#b02000"/>
<polygon points="587.15,83.20 589.02,79.95 592.77,79.95 594.65,83.20 592.77,86.45 589.02,86.45" fill="#b02000"/>
<polygon points="608.15,85.20 610.02,81.95 613.77,81.95 615.65,85.20 613.77,88.45 610.02,88.45" fill="#b02000"/>
<polygon points="592.65,90.50 594.52,87.25 598.27,87.25 600.15,90.50 598.27,93.75 594.52,93.75" fill="#b02000"/>
<polygon points="608.75,93.70 610.62,90.45 614.38,90.45 616.25,93.70 614.38,96.95 610.62,96.95" fill="#b02000"/>
<polygon points="613.75,93.70 615.62,90.45 619.38,90.45 621.25,93.70 619.38,96.95 615.62,96.95" fill="#b02000"/>
<polygon points="586.55,97.40 588.42,94.15 592.17,94.15 594.05,97.40 592.17,100.65 588.42,100.65" fill="#b02000"/>
<polygon points="592.75,99.70 594.62,96.45 598.38,96.45 600.25,99.70 598.38,102.95 594.62,102.95" fill="#b02000"/>
<polygon points="602.75,99.00 604.62,95.75 608.38,95.75 610.25,99.00 608.38,102.25 604.62,102.25" fill="#b02000"/>
<polygon points="598.05,100.20 599.92,96.95 603.67,96.95 605.55,100.20 603.67,103.45 599.92,103.45" fill="#b02000"/>
<polygon points="582.15,111.40 584.02,108.15 587.77,108.15 589.65,111.40 587.77,114.65 584.02,114.65" fill="#b02000"/>
<polygon points="613.95,111.40 615.83,108.15 619.58,108.15 621.45,111.40 619.58,114.65 615.83,114.65" fill="#b02000"/>
<polygon points="609.05,111.70 610.92,108.45 614.67,108.45 616.55,111.70 614.67,114.95 610.92,114.95" fill="#b02000"/>
<polygon points="592.35,114.80 594.23,111.55 597.98,111.55 599.85,114.80 597.98,118.05 594.23,118.05" fill="#b02000"/>
<polygon points="603.25,114.20 605.12,110.95 608.88,110.95 610.75,114.20 608.88,117.45 605.12,117.45" fill="#b02000"/>
<polygon points="587.15,117.70 589.02,114.45 592.77,114.45 594.65,117.70 592.77,120.95 589.02,120.95" fill="#b02000"/>
<polygon points="598.05,116.60 599.92,113.35 603.67,113.35 605.55,116.60 603.67,119.85 599.92,119.85" fill="#b02000"/>
<polygon points="608.15,119.80 610.02,116.55 613.77,116.55 615.65,119.80 613.77,123.05 610.02,123.05" fill="#b02000"/>
<line x1="582.00" y1="102.50" x2="621.40" y2="102.50" stroke="#000" stroke-width="1.2" stroke-linecap="butt"/>
<line x1="601.50" y1="95.50" x2="601.50" y2="108.50" stroke="#000" stroke-width="1.2" stroke-linecap="butt"/>
<line x1="591.50" y1="95.50" x2="611.90" y2="95.50" stroke="#000" stroke-width="1.2" stroke-linecap="butt"/>
<line x1="591.50" y1="108.50" x2="611.90" y2="108.50" stroke="#000" stroke-width="1.2" stroke-linecap="butt"/>
<rect x="656.30" y="65.30" width="5.2" height="5.2" fill="#b02000"/>
<rect x="660.00" y="67.00" width="5.2" height="5.2" fill="#b02000"/>
<rect x="658.40" y="70.30" width="5.2" height="5.2" fill="#b02000"/>
<rect x="672.00" y="82.90" width="5.2" height="5.2" fill="#b02000"/>
<rect x="664.00" y="85.40" width="5.2" height="5.2" fill="#b02000"/>
<rect x="668.40" y="85.60" width="5.2" height="5.2" fill="#b02000"/>
<rect x="648.70" y="87.10" width="5.2" height="5.2" fill="#b02000"/>
<rect x="643.40" y="89.00" width="5.2" height="5.2" fill="#b02000"/>
<rect x="653.40" y="88.00" width="5.2" height="5.2" fill="#b02000"/>
<rect x="657.90" y="87.20" width="5.2" height="5.2" fill="#b02000"/>
<rect x="662.40" y="88.60" width="5.2" height="5.2" fill="#b02000"/>
<rect x="673.90" y="87.00" width="5.2" height="5.2" fill="#b02000"/>
<rect x="641.10" y="91.80" width="5.2" height="5.2" fill="#b02000"/>
<rect x="645.90" y="92.60" width="5.2" height="5.2" fill="#b02000"/>
<rect x="650.70" y="91.20" width="5.2" height="5.2" fill="#b02000"/>
<rect x="655.50" y="92.00" width="5.2" height="5.2" fill="#b02000"/>
<rect x="660.30" y="91.30" width="5.2" height="5.2" fill="#b02000"/>
<rect x="665.10" y="92.20" width="5.2" height="5.2" fill="#b02000"/>
<rect x="669.90" y="91.00" width="5.2" height="5.2" fill="#b02000"/>
<rect x="674.70" y="92.30" width="5.2" height="5.2" fill="#b02000"/>
<rect x="641.10" y="96.00" width="5.2" height="5.2" fill="#b02000"/>
<rect x="645.90" y="96.80" width="5.2" height="5.2" fill="#b02000"/>
<rect x="650.70" y="95.60" width="5.2" height="5.2" fill="#b02000"/>
<rect x="655.50" y="96.40" width="5.2" height="5.2" fill="#b02000"/>
<rect x="660.30" y="95.70" width="5.2" height="5.2" fill="#b02000"/>
<rect x="665.10" y="96.60" width="5.2" height="5.2" fill="#b02000"/>
<rect x="669.90" y="95.40" width="5.2" height="5.2" fill="#b02000"/>
<rect x="674.70" y="96.70" width="5.2" height="5.2" fill="#b02000"/>
<rect x="644.40" y="100.30" width="5.2" height="5.2" fill="#b02000"/>
<rect x="648.90" y="100.80" width="5.2" height="5.2" fill="#b02000"/>
<rect x="653.40" y="99.80" width="5.2" height="5.2" fill="#b02000"/>
<rect x="657.90" y="100.60" width="5.2" height="5.2" fill="#b02000"/>
<rect x="662.40" y="99.70" width="5.2" height="5.2" fill="#b02000"/>
<rect x="666.90" y="100.70" width="5.2" height="5.2" fill="#b02000"/>
<rect x="671.40" y="99.60" width="5.2" height="5.2" fill="#b02000"/>
<rect x="674.80" y="100.40" width="5.2" height="5.2" fill="#b02000"/>
<rect x="648.40" y="104.00" width="5.2" height="5.2" fill="#b02000"/>
<rect x="652.90" y="104.70" width="5.2" height="5.2" fill="#b02000"/>
<rect x="657.40" y="103.80" width="5.2" height="5.2" fill="#b02000"/>
<rect x="661.90" y="104.60" width="5.2" height="5.2" fill="#b02000"/>
<rect x="666.40" y="103.70" width="5.2" height="5.2" fill="#b02000"/>
<rect x="670.40" y="103.40" width="5.2" height="5.2" fill="#b02000"/>
<rect x="652.40" y="107.40" width="5.2" height="5.2" fill="#b02000"/>
<rect x="656.90" y="108.00" width="5.2" height="5.2" fill="#b02000"/>
<rect x="661.40" y="107.20" width="5.2" height="5.2" fill="#b02000"/>
<rect x="665.40" y="106.90" width="5.2" height="5.2" fill="#b02000"/>
<rect x="654.40" y="110.00" width="5.2" height="5.2" fill="#b02000"/>
<rect x="663.10" y="109.80" width="5.2" height="5.2" fill="#b02000"/>
<line x1="641.00" y1="95.50" x2="680.20" y2="95.50" stroke="#000" stroke-width="1.2" stroke-linecap="butt"/>
<line x1="660.50" y1="92.50" x2="660.50" y2="98.50" stroke="#000" stroke-width="1.2" stroke-linecap="butt"/>
<line x1="650.50" y1="92.50" x2="670.70" y2="92.50" stroke="#000" stroke-width="1.2" stroke-linecap="butt"/>
<line x1="650.50" y1="98.50" x2="670.70" y2="98.50" stroke="#000" stroke-width="1.2" stroke-linecap="butt"/>
<text x="482.10" y="240.10" font-size="12.3" font-weight="normal" text-anchor="end" transform="rotate(-45 482.10 240.10)">Untransfected-590</text>
<text x="491.16" y="249.56" font-size="12.3" font-weight="normal" text-anchor="end" transform="rotate(-45 491.16 249.56)">x<tspan font-size="10" dx="-3.75" dy="-2.7">&#772;</tspan><tspan dx="3.75" dy="2.7"> =1.40 ns; n=47</tspan></text>
<text x="541.10" y="240.10" font-size="12.3" font-weight="normal" text-anchor="end" transform="rotate(-45 541.10 240.10)">ACTB-Ribo(4D)-590</text>
<text x="550.16" y="249.56" font-size="12.3" font-weight="normal" text-anchor="end" transform="rotate(-45 550.16 249.56)">x<tspan font-size="10" dx="-3.75" dy="-2.7">&#772;</tspan><tspan dx="3.75" dy="2.7"> =1.70 ns; n=47</tspan></text>
<text x="599.90" y="240.10" font-size="12.3" font-weight="normal" text-anchor="end" transform="rotate(-45 599.90 240.10)">ACTB-Ribo(1A)-590</text>
<text x="608.96" y="249.56" font-size="12.3" font-weight="normal" text-anchor="end" transform="rotate(-45 608.96 249.56)">x<tspan font-size="10" dx="-3.75" dy="-2.7">&#772;</tspan><tspan dx="3.75" dy="2.7"> =1.88 ns; n=18</tspan></text>
<text x="658.90" y="240.10" font-size="12.3" font-weight="normal" text-anchor="end" transform="rotate(-45 658.90 240.10)">ACTB-Ribo(4A)-590</text>
<text x="667.96" y="249.56" font-size="12.3" font-weight="normal" text-anchor="end" transform="rotate(-45 667.96 249.56)">x<tspan font-size="10" dx="-3.75" dy="-2.7">&#772;</tspan><tspan dx="3.75" dy="2.7"> =1.92 ns; n=48</tspan></text>
</svg>
</body></html>
